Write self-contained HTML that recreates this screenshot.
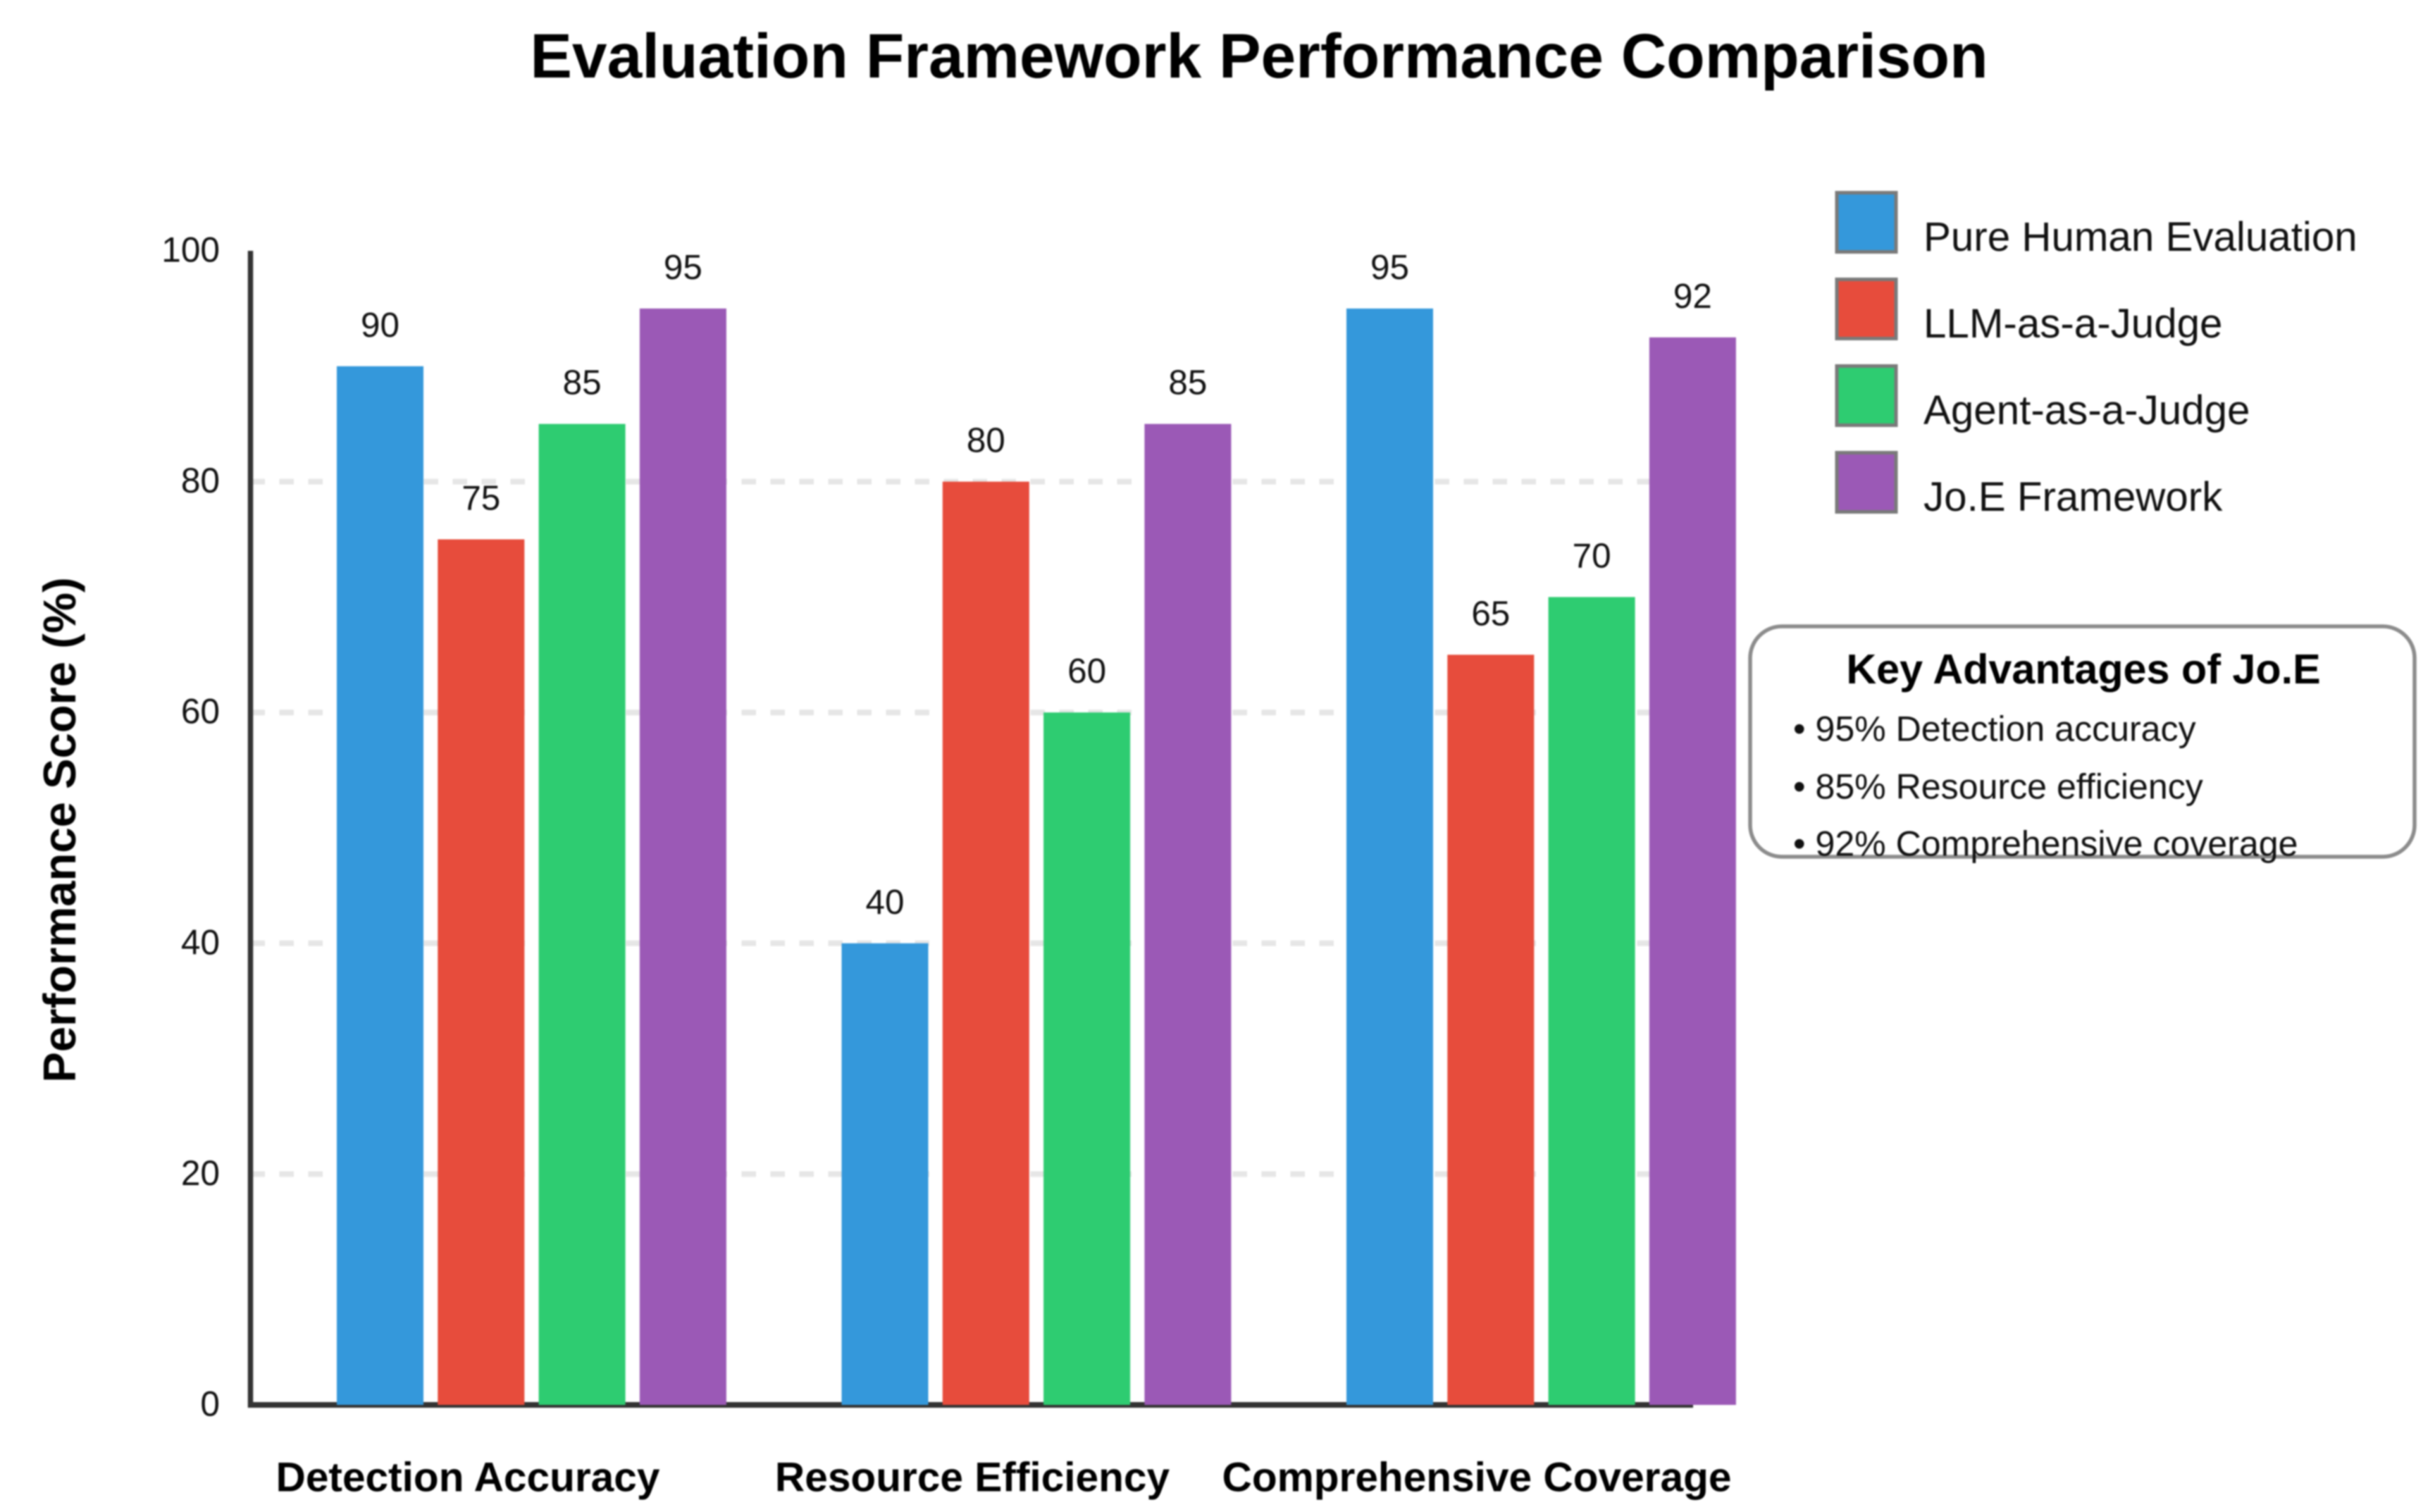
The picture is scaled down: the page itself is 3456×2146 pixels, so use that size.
<!DOCTYPE html>
<html lang="en">
<head>
<meta charset="utf-8">
<title>Evaluation Framework Performance Comparison</title>
<style>
html,body{margin:0;padding:0;background:#fff;}
svg{display:block;font-family:"Liberation Sans",sans-serif;filter:blur(1px);}
</style>
</head>
<body>
<svg id="chart" xmlns="http://www.w3.org/2000/svg" width="3456" height="2146" viewBox="0 0 3456 2146">
  <rect x="0" y="0" width="3456" height="2146" fill="#ffffff"/>
  <text x="1787" y="110" text-anchor="middle" font-size="89.3" font-weight="700" fill="#000">Evaluation Framework Performance Comparison</text>
  <text transform="translate(107 1178) rotate(-90)" text-anchor="middle" font-size="65.2" font-weight="700" fill="#000">Performance Score (%)</text>
  <g id="grid"></g>
  <g id="axes"></g>
  <g id="bars"></g>
  <g id="ticks"></g>
  <g id="categories"></g>
  <g id="values"></g>
  <g id="legend"></g>
  <g>
    <rect x="2484" y="889" width="943" height="327" rx="45" ry="45" fill="#ffffff" stroke="#8c8c8c" stroke-width="5.5"/>
    <text x="2957" y="970" text-anchor="middle" font-size="59.3" font-weight="700" fill="#000">Key Advantages of Jo.E</text>
    <text x="2545" y="1051.5" font-size="50.1" fill="#111">• 95% Detection accuracy</text>
    <text x="2545" y="1133.5" font-size="50.1" fill="#111">• 85% Resource efficiency</text>
    <text x="2545" y="1214.5" font-size="50.1" fill="#111">• 92% Comprehensive coverage</text>
  </g>
</svg>
<script>
const categories = ["Detection Accuracy", "Resource Efficiency", "Comprehensive Coverage"];
const seriesNames = ["Pure Human Evaluation", "LLM-as-a-Judge", "Agent-as-a-Judge", "Jo.E Framework"];
const seriesColors = ["#3498db", "#e74c3c", "#2ecc71", "#9b59b6"];
const pureHumanValues = [90, 40, 95];
const llmJudgeValues = [75, 80, 65];
const agentJudgeValues = [85, 60, 70];
const joeValues = [95, 85, 92.5];
const yTicks = [0, 20, 40, 60, 80, 100];
const gridTicks = [20, 40, 60, 80];

const seriesValues = [pureHumanValues, llmJudgeValues, agentJudgeValues, joeValues];
const NS = "http://www.w3.org/2000/svg";
const Y0 = 1994, PX_PER_UNIT = 16.38, AXIS_LEFT = 355.5, AXIS_RIGHT = 2403;
const GROUP_START = 478, GROUP_STEP = 716.5, BAR_STEP = 143.3, BAR_W = 123;
const LABEL_START = 663, LABEL_STEP = 716;

function yScale(v) { return Y0 - v * PX_PER_UNIT; }
function xBar(c, s) { return GROUP_START + c * GROUP_STEP + s * BAR_STEP; }
function mk(tag, attrs, parent, text) {
  const el = document.createElementNS(NS, tag);
  for (const k in attrs) el.setAttribute(k, attrs[k]);
  if (text !== undefined) el.textContent = text;
  parent.appendChild(el);
  return el;
}

const gridG = document.getElementById("grid");
gridTicks.forEach(function (t) {
  const line = mk("line", { x1: AXIS_LEFT, x2: AXIS_RIGHT, y1: yScale(t), y2: yScale(t), stroke: "#e6e6e6", "stroke-width": 8, "stroke-dasharray": "20.5 20.5" }, gridG);
  
  
});

const axesG = document.getElementById("axes");
const yAxis = mk("line", { x1: AXIS_LEFT, x2: AXIS_LEFT, y1: yScale(100), y2: Y0 + 4, stroke: "#333333", "stroke-width": 7.5 }, axesG);


const xAxis = mk("line", { x1: AXIS_LEFT, x2: AXIS_RIGHT, y1: Y0, y2: Y0, stroke: "#333333", "stroke-width": 8 }, axesG);



const barsG = document.getElementById("bars");
const valuesG = document.getElementById("values");
seriesValues.forEach(function (vals, s) {
  vals.forEach(function (v, c) {
    const bar = mk("rect", { x: xBar(c, s), y: yScale(v), width: BAR_W, height: Y0 - yScale(v), fill: seriesColors[s] }, barsG);
    
    
    const lab = mk("text", { x: xBar(c, s) + BAR_W / 2, y: yScale(v) - 42, "text-anchor": "middle", "font-size": 49.4, fill: "#111" }, valuesG, String(Math.trunc(v)));
    
    
  });
});

const ticksG = document.getElementById("ticks");
yTicks.forEach(function (t) {
  const lab = mk("text", { x: 312, y: yScale(t) + 15.5, "text-anchor": "end", "font-size": 49.6, fill: "#111" }, ticksG, String(t));
  
  
});

const catG = document.getElementById("categories");
categories.forEach(function (name, c) {
  const lab = mk("text", { x: LABEL_START + c * LABEL_STEP + 1, y: 2116.5, "text-anchor": "middle", "font-size": 58.6, "font-weight": 700, fill: "#000" }, catG, name);
  
  
});

const legendG = document.getElementById("legend");
seriesNames.forEach(function (name, s) {
  const top = 273.5 + s * 123;
  const swatch = mk("rect", { x: 2607, y: top, width: 84, height: 84, fill: seriesColors[s], stroke: "#7a7a7a", "stroke-width": 5 }, legendG);
  
  
  const lab = mk("text", { x: 2730, y: 356 + s * 123, "font-size": 58.3, fill: "#111" }, legendG, name);
  
  
});
</script>
</body>
</html>
